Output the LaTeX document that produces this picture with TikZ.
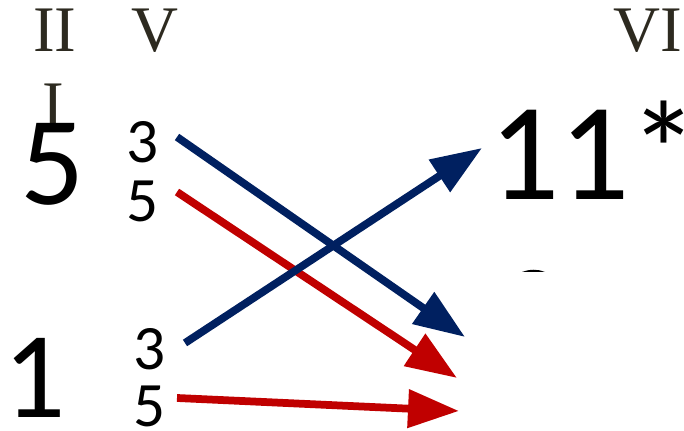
\documentclass[tikz,border=0pt]{standalone}
\usepackage{fontspec}
\setmainfont{Carlito}
\newfontfamily\romfont{Liberation Serif}
\usetikzlibrary{arrows.meta}
\definecolor{navy}{HTML}{002060}
\definecolor{darkred}{HTML}{C00000}
\definecolor{romgray}{RGB}{45,42,32}
\begin{document}
\begin{tikzpicture}[x=0.02cm,y=-0.02cm,>={Triangle[length=1.02cm,width=0.74cm]}]
  \tikzstyle{rom}=[anchor=base,inner sep=0pt,text=romgray,font=\romfont\fontsize{37}{37}\selectfont]
  \tikzstyle{big}=[anchor=base,inner sep=0pt,font=\fontsize{72}{72}\selectfont]
  \tikzstyle{small}=[anchor=base,inner sep=0pt,font=\fontsize{36}{36}\selectfont]
  \tikzstyle{arr}=[line width=0.155cm,->]
  \useasboundingbox (0,0) rectangle (684,431);
  % roman numerals
  \node[rom] (ii) at (55,52) {II};
  \node[rom] (v) at (155,52) {V};
  \node[rom] (vi) at (648,52) {VI};
  \node[rom] (i) at (53,127) {I};
  % bass and figures
  \node[big] (bassfive) at (53,205) {5};
  \node[small] (topthree) at (143,163) {3};
  \node[small] (topfive) at (143,222) {5};
  \node[big,font=\fontsize{79}{79}\selectfont] (eleven) at (594,200) {11*};
  \node[big,font=\fontsize{70}{70}\selectfont] (bassone) at (35,418) {1};
  \node[small] (lowthree) at (150,370) {3};
  \node[small] (lowfive) at (150,427) {5};
  \fill (522,272) .. controls (530,269) and (538,269) .. (545,272) -- cycle;
  % voice leading
  \coordinate (tipa) at (465,337);
  \coordinate (tipb) at (457,378);
  \coordinate (tipc) at (459,411);
  \coordinate (tipd) at (482,148);
  \draw[arr,navy] (177,137) -- (tipa);
  \draw[arr,darkred] (177,192) -- (tipb);
  \draw[arr,darkred] (177,398) -- (tipc);
  \draw[arr,navy] (185,343) -- (tipd);
\end{tikzpicture}
\end{document}
